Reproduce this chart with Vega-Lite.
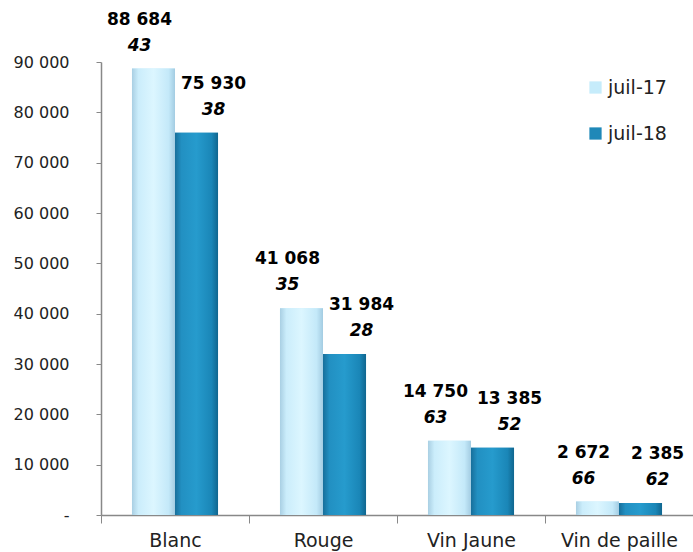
{
  "$schema": "https://vega.github.io/schema/vega-lite/v6.json",
  "autosize": {"type": "none"},
  "padding": {"left": 101, "top": 62, "right": 0, "bottom": 37},
  "width": 592,
  "height": 453,
  "background": "white",
  "config": {
    "view": {"stroke": null},
    "font": "DejaVu Sans",
    "locale": {"number": {"decimal": ",", "thousands": " ", "grouping": [3], "currency": ["", " €"]}}
  },
  "data": {
    "values": [
      {"type": "Blanc", "periode": "juil-17", "volume": 88684.43, "l1": "88 684", "l2": "43"},
      {"type": "Blanc", "periode": "juil-18", "volume": 75930.38, "l1": "75 930", "l2": "38"},
      {"type": "Rouge", "periode": "juil-17", "volume": 41068.35, "l1": "41 068", "l2": "35"},
      {"type": "Rouge", "periode": "juil-18", "volume": 31984.28, "l1": "31 984", "l2": "28"},
      {"type": "Vin Jaune", "periode": "juil-17", "volume": 14750.63, "l1": "14 750", "l2": "63"},
      {"type": "Vin Jaune", "periode": "juil-18", "volume": 13385.52, "l1": "13 385", "l2": "52"},
      {"type": "Vin de paille", "periode": "juil-17", "volume": 2672.66, "l1": "2 672", "l2": "66"},
      {"type": "Vin de paille", "periode": "juil-18", "volume": 2385.62, "l1": "2 385", "l2": "62"}
    ]
  },
  "encoding": {
    "x": {
      "field": "type", "type": "nominal", "sort": null,
      "scale": {"paddingInner": 0, "paddingOuter": 0},
      "axis": {
        "title": null, "labelAngle": 0, "labelFontSize": 19, "labelColor": "#222",
        "tickBand": "extent", "tickSize": 8, "tickColor": "#888", "domainColor": "#888",
        "labelPadding": 8, "domainWidth": 1.5
      }
    },
    "xOffset": {
      "field": "periode", "type": "nominal",
      "scale": {"paddingOuter": 0.72, "paddingInner": 0}
    },
    "y": {
      "field": "volume", "type": "quantitative",
      "scale": {"domain": [0, 90000], "nice": false},
      "axis": {
        "title": null, "grid": false, "values": [0,10000,20000,30000,40000,50000,60000,70000,80000,90000],
        "labelOverlap": false,
        "labelExpr": "datum.value == 0 ? '-' : format(datum.value, ',d')",
        "labelFontSize": 16, "labelColor": "#222", "labelPadding": 27,
        "tickSize": 5, "tickColor": "#888", "domainColor": "#888", "domainWidth": 1.5
      }
    }
  },
  "layer": [
    {
      "mark": {"type": "bar"},
      "encoding": {
        "color": {
          "field": "periode", "type": "nominal",
          "scale": {"domain": ["juil-17", "juil-18"], "range": ["#c6ecfb", "#1f88b8"]},
          "legend": {
            "title": null, "orient": "none", "legendX": 485, "legendY": 16,
            "symbolType": "square", "symbolSize": 150, "symbolStrokeWidth": 0,
            "labelFontSize": 19, "labelColor": "#222", "rowPadding": 26, "labelOffset": 3
          }
        }
      }
    },
    {
      "transform": [{"filter": "datum.periode == 'juil-17'"}],
      "mark": {"type": "bar", "fill": {"gradient": "linear", "x1": 0, "x2": 1, "y1": 0, "y2": 0,
        "stops": [{"offset": 0, "color": "#a9cfe3"}, {"offset": 0.15, "color": "#cbedfb"}, {"offset": 0.5, "color": "#dcf6ff"}, {"offset": 0.85, "color": "#c4e9f9"}, {"offset": 1, "color": "#a3cce2"}]}}
    },
    {
      "transform": [{"filter": "datum.periode == 'juil-18'"}],
      "mark": {"type": "bar", "fill": {"gradient": "linear", "x1": 0, "x2": 1, "y1": 0, "y2": 0,
        "stops": [{"offset": 0, "color": "#176f9b"}, {"offset": 0.15, "color": "#2290c2"}, {"offset": 0.5, "color": "#269bcd"}, {"offset": 0.85, "color": "#1a86b7"}, {"offset": 1, "color": "#10668f"}]}}
    },
    {
      "transform": [{"filter": "datum.periode == 'juil-17'"}],
      "mark": {"type": "text", "fontWeight": "bold", "fontSize": 17, "dy": -49, "dx": -14, "baseline": "middle", "color": "black"},
      "encoding": {"text": {"field": "l1"}}
    },
    {
      "transform": [{"filter": "datum.periode == 'juil-17'"}],
      "mark": {"type": "text", "fontWeight": "bold", "fontStyle": "italic", "fontSize": 17, "dy": -23, "dx": -14, "baseline": "middle", "color": "black"},
      "encoding": {"text": {"field": "l2"}}
    },
    {
      "transform": [{"filter": "datum.periode == 'juil-18'"}],
      "mark": {"type": "text", "fontWeight": "bold", "fontSize": 17, "dy": -49, "dx": 17, "baseline": "middle", "color": "black"},
      "encoding": {"text": {"field": "l1"}}
    },
    {
      "transform": [{"filter": "datum.periode == 'juil-18'"}],
      "mark": {"type": "text", "fontWeight": "bold", "fontStyle": "italic", "fontSize": 17, "dy": -23, "dx": 17, "baseline": "middle", "color": "black"},
      "encoding": {"text": {"field": "l2"}}
    }
  ]
}
